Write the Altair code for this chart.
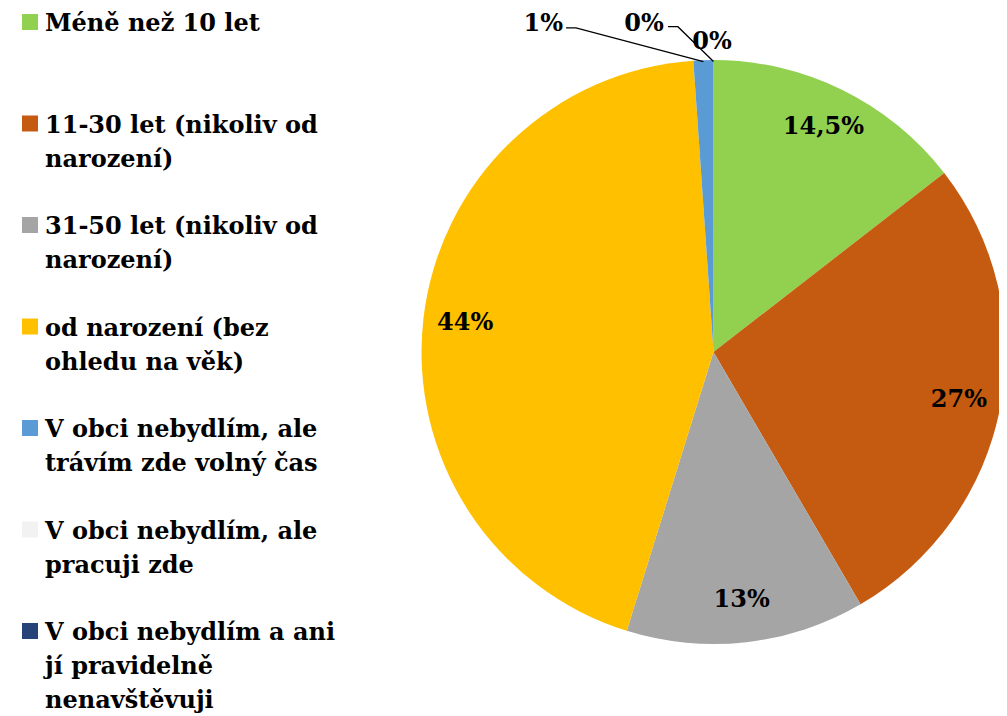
import math
import altair as alt
import pandas as pd

# ---- data ----
categories = [
    "Méně než 10 let",
    "11-30 let (nikoliv od\nnarození)",
    "31-50 let (nikoliv od\nnarození)",
    "od narození (bez\nohledu na věk)",
    "V obci nebydlím, ale\ntrávím zde volný čas",
    "V obci nebydlím, ale\npracuji zde",
    "V obci nebydlím a ani\njí pravidelně\nnenavštěvuji",
]
values = [14.5, 27.1, 13.2, 44.1, 1.1, 0.0, 0.0]
labels = ["14,5%", "27%", "13%", "44%", "1%", "0%", "0%"]
colors = ["#92D050", "#C55A11", "#A5A5A5", "#FFC000", "#5B9BD5", "#F2F2F2", "#264478"]

FONT = "DejaVu Serif"
FS_LEG = 24
FS_LAB = 24
W, H = 991, 708
CX, CY, R = 705.5, 344, 292

df = pd.DataFrame({"idx": list(range(len(categories))), "cat": categories,
                   "value": values, "label": labels})

color = alt.Color("cat:N", scale=alt.Scale(domain=categories, range=colors), legend=None)

arcs = alt.Chart(df).mark_arc(outerRadius=R).encode(
    theta=alt.Theta("value:Q", stack=True),
    order=alt.Order("idx:Q"),
    color=color,
    x=alt.value(CX), y=alt.value(CY),
)

inner = alt.Chart(df).transform_calculate(
    lab="datum.idx < 4 ? datum.label : ''"
).mark_text(radius=250, font=FONT, fontSize=FS_LAB, fontWeight="bold", color="black").encode(
    theta=alt.Theta("value:Q", stack=True),
    order=alt.Order("idx:Q"),
    text="lab:N",
    x=alt.value(CX), y=alt.value(CY),
)

# ---- outer labels with leader lines (annotation layout, in radius units from centre) ----
total = sum(values)
cum = 0.0
mids = []
for v in values:
    mids.append((cum + v / 2) / total)
    cum += v

elbows = {4: (-0.471, -1.110), 5: (-0.122, -1.114)}
ends = {4: (-0.505, -1.110), 5: (-0.156, -1.114)}
rows = []
for i in (4, 5):
    a = 2 * math.pi * mids[i]
    rows.append({"g": i, "o": 0, "x": 0.995 * math.sin(a), "y": -0.995 * math.cos(a)})
    rows.append({"g": i, "o": 1, "x": elbows[i][0], "y": elbows[i][1]})
    rows.append({"g": i, "o": 2, "x": ends[i][0], "y": ends[i][1]})
lead_df = pd.DataFrame(rows)

xs = alt.Scale(domain=[-CX / R, (W - CX) / R], range=[0, W])
ys = alt.Scale(domain=[-CY / R, (H - CY) / R], range=[0, H])

leaders = alt.Chart(lead_df).mark_line(color="black", strokeWidth=1.3).encode(
    x=alt.X("x:Q", scale=xs, axis=None),
    y=alt.Y("y:Q", scale=ys, axis=None),
    detail="g:N",
    order="o:Q",
)

outer_df = pd.DataFrame({
    "label": [labels[4], labels[5], labels[6]],
    "x": [-0.515, -0.170, -0.005],
    "y": [-1.125, -1.124, -1.060],
    "al": ["right", "right", "center"],
})
outer_right = alt.Chart(outer_df).transform_filter("datum.al == 'right'").mark_text(
    font=FONT, fontSize=FS_LAB, fontWeight="bold", align="right", baseline="middle", color="black"
).encode(x=alt.X("x:Q", scale=xs, axis=None), y=alt.Y("y:Q", scale=ys, axis=None), text="label:N")
outer_center = alt.Chart(outer_df).transform_filter("datum.al == 'center'").mark_text(
    font=FONT, fontSize=FS_LAB, fontWeight="bold", align="center", baseline="middle", color="black"
).encode(x=alt.X("x:Q", scale=xs, axis=None), y=alt.Y("y:Q", scale=ys, axis=None), text="label:N")

# ---- legend ----
ly = alt.Scale(domain=[0, 6], range=[14, 623])
leg_sq = alt.Chart(df).mark_square(size=256, opacity=1).encode(
    x=alt.value(22),
    y=alt.Y("idx:Q", scale=ly, axis=None),
    color=color,
)
leg_txt = alt.Chart(df).mark_text(
    font=FONT, fontSize=FS_LEG, fontWeight="bold", align="left", baseline="alphabetic",
    lineBreak="\n", lineHeight=34, dy=9, color="black"
).encode(
    x=alt.value(37),
    y=alt.Y("idx:Q", scale=ly, axis=None),
    text="cat:N",
)

chart = alt.layer(arcs, inner, leaders, outer_right, outer_center, leg_sq, leg_txt).resolve_scale(
    x="independent", y="independent"
).properties(
    width=W, height=H, padding=0, autosize=alt.AutoSizeParams(type="none")
).configure_view(stroke=None)

chart.save("out.html", embed_options={"renderer": "svg", "actions": False})
